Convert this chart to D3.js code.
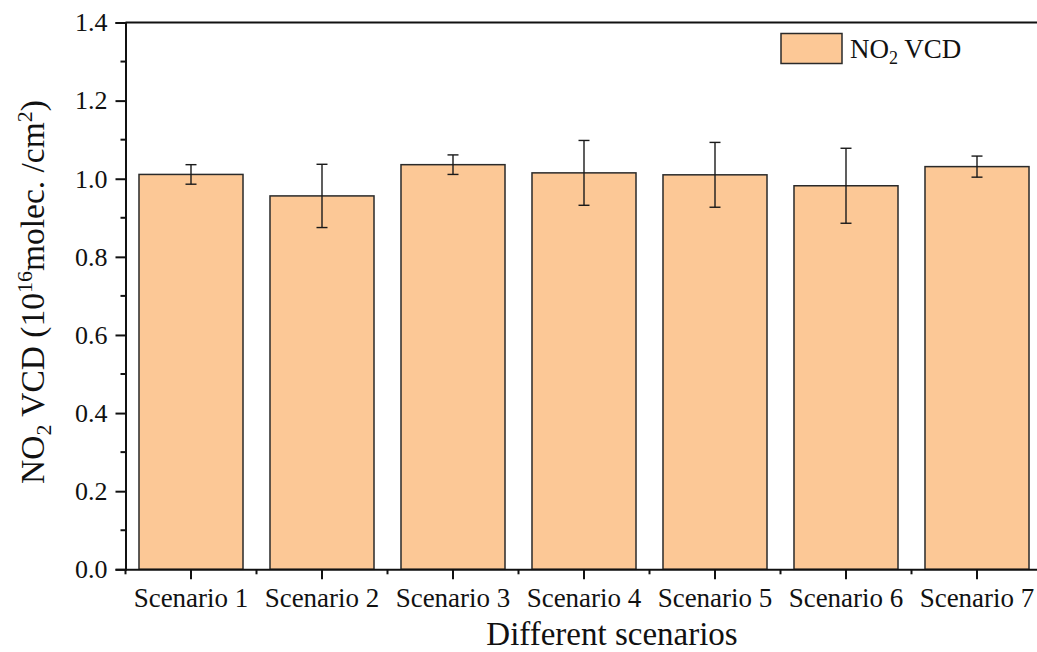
<!DOCTYPE html>
<html>
<head>
<meta charset="utf-8">
<script src="https://cdn.jsdelivr.net/npm/d3@7"></script>
<style>
  html, body { margin: 0; padding: 0; background: #fff; }
  svg { display: block; font-family: "Times New Roman", "Liberation Serif", serif; }
</style>
</head>
<body>
<svg id="chart" width="1037" height="652"></svg>
<script>
// Scenario categories and NO2 VCD means with their error (±) values
const categories = ["Scenario 1", "Scenario 2", "Scenario 3", "Scenario 4", "Scenario 5", "Scenario 6", "Scenario 7"];
const vcdValues = [1.011, 0.956, 1.036, 1.015, 1.010, 0.982, 1.031];
const vcdErrors = [0.025, 0.081, 0.025, 0.083, 0.083, 0.096, 0.027];
const yTicks = [0, 0.2, 0.4, 0.6, 0.8, 1.0, 1.2, 1.4];
const yMinorTicks = [0.1, 0.3, 0.5, 0.7, 0.9, 1.1, 1.3];

const svg = d3.select("#chart");
const plotLeft = 125.5, plotRight = 1042.5, plotTop = 22.5, plotBottom = 569.3;
const serif = "'Times New Roman', 'Liberation Serif', serif";

const x = d3.scaleBand()
  .domain(categories)
  .range([plotLeft, plotRight])
  .paddingInner(0.206)
  .paddingOuter(0.103);

const y = d3.scaleLinear().domain([0, 1.4]).range([plotBottom, plotTop]);

const barFill = "#FCC896";
const barStroke = "#2a2a2a";

// Bars
svg.append("g").selectAll("rect")
  .data(categories)
  .join("rect")
  .attr("x", d => x(d))
  .attr("y", (d, i) => y(vcdValues[i]))
  .attr("width", x.bandwidth())
  .attr("height", (d, i) => y(0) - y(vcdValues[i]))
  .attr("fill", barFill)
  .attr("stroke", barStroke)
  .attr("stroke-width", 1.5);

// Error bars
const capHalf = 5.5;
const eb = svg.append("g").attr("stroke", "#1a1a1a").attr("stroke-width", 1.4).attr("fill", "none");
categories.forEach((c, i) => {
  const cx = x(c) + x.bandwidth() / 2;
  const hi = y(vcdValues[i] + vcdErrors[i]);
  const lo = y(vcdValues[i] - vcdErrors[i]);
  eb.append("line").attr("x1", cx).attr("x2", cx).attr("y1", hi).attr("y2", lo);
  eb.append("line").attr("x1", cx - capHalf).attr("x2", cx + capHalf).attr("y1", hi).attr("y2", hi);
  eb.append("line").attr("x1", cx - capHalf).attr("x2", cx + capHalf).attr("y1", lo).attr("y2", lo);
});

// Frame (top and right sides)
svg.append("path")
  .attr("d", `M${plotLeft},${plotTop}H${plotRight}V${plotBottom}`)
  .attr("fill", "none").attr("stroke", "#111").attr("stroke-width", 2);

// Y axis
const yAxis = svg.append("g").attr("transform", `translate(${plotLeft},0)`)
  .call(d3.axisLeft(y).tickValues(yTicks).tickFormat(d3.format(".1f")).tickSize(10).tickPadding(8));
yAxis.select(".domain").attr("stroke", "#111").attr("stroke-width", 2);
yAxis.selectAll(".tick line").attr("stroke", "#111").attr("stroke-width", 2);
yAxis.selectAll(".tick text").attr("font-size", 26).attr("font-family", serif).attr("fill", "#111");
svg.append("g").selectAll("line").data(yMinorTicks).join("line")
  .attr("x1", plotLeft - 5).attr("x2", plotLeft).attr("y1", d => y(d)).attr("y2", d => y(d))
  .attr("stroke", "#111").attr("stroke-width", 2);

// X axis
const xAxis = svg.append("g").attr("transform", `translate(0,${plotBottom})`)
  .call(d3.axisBottom(x).tickSize(10).tickPadding(9).tickSizeOuter(0));
xAxis.select(".domain").attr("stroke", "#111").attr("stroke-width", 2);
xAxis.selectAll(".tick line").attr("stroke", "#111").attr("stroke-width", 2);
xAxis.selectAll(".tick text").attr("font-size", 27).attr("font-family", serif).attr("fill", "#111");
const bounds = d3.range(categories.length + 1).map(k => plotLeft + k * x.step());
svg.append("g").selectAll("line").data(bounds).join("line")
  .attr("x1", d => d).attr("x2", d => d).attr("y1", plotBottom).attr("y2", plotBottom + 5)
  .attr("stroke", "#111").attr("stroke-width", 2);

// Axis titles
svg.append("text")
  .attr("x", 612).attr("y", 645)
  .attr("text-anchor", "middle").attr("font-size", 33).attr("fill", "#111")
  .text("Different scenarios");

const yt = svg.append("text")
  .attr("transform", "translate(44,292) rotate(-90)")
  .attr("text-anchor", "middle").attr("font-size", 33.5).attr("fill", "#111");
yt.append("tspan").text("NO");
yt.append("tspan").attr("font-size", 22).attr("dy", 7).text("2");
yt.append("tspan").attr("dy", -7).text(" VCD (10");
yt.append("tspan").attr("font-size", 22).attr("dy", -12).text("16");
yt.append("tspan").attr("dy", 12).text("molec. /cm");
yt.append("tspan").attr("font-size", 22).attr("dy", -12).text("2");
yt.append("tspan").attr("dy", 12).text(")");

// Legend
svg.append("rect")
  .attr("x", 781).attr("y", 33.5).attr("width", 61).attr("height", 30)
  .attr("fill", barFill).attr("stroke", barStroke).attr("stroke-width", 1.5);
const lt = svg.append("text").attr("x", 850).attr("y", 58).attr("font-size", 27).attr("fill", "#111");
lt.append("tspan").text("NO");
lt.append("tspan").attr("font-size", 18).attr("dy", 6).text("2");
lt.append("tspan").attr("dy", -6).text(" VCD");
</script>
</body>
</html>
